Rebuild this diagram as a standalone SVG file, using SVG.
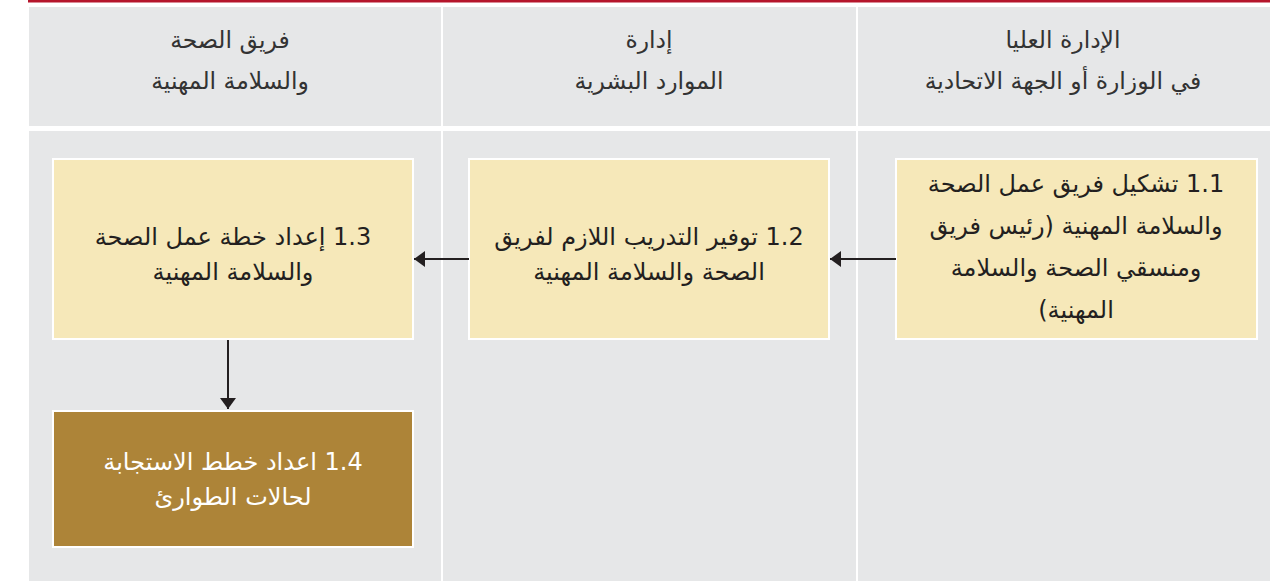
<svg xmlns="http://www.w3.org/2000/svg" width="1275" height="581" viewBox="0 0 1275 581">
<style>
.col{fill:#e6e7e8}
.box{fill:#f6e8b9;stroke:#ffffff;stroke-width:2}
.dark{fill:#ad8438;stroke:#ffffff;stroke-width:2}
.hd{font-family:"DejaVu Sans",sans-serif;font-size:23.5px;fill:#333333;text-anchor:middle;direction:rtl}
.tx{font-family:"DejaVu Sans",sans-serif;font-size:24px;fill:#231f20;text-anchor:middle;direction:rtl}
.wt{fill:#ffffff}
.ln{stroke:#231f20;stroke-width:2;fill:none}
</style>
<defs>
<marker id="ah" viewBox="0 0 11 16" refX="11" refY="8" markerWidth="5.5" markerHeight="8" orient="auto" markerUnits="strokeWidth">
<path d="M0,0 L11,8 L0,16 z" fill="#231f20"/>
</marker>
</defs>
<rect x="0" y="0" width="1275" height="581" fill="#ffffff"/>
<rect x="28" y="0" width="1242" height="2.5" fill="#b5152b"/>
<g id="columns">
<rect class="col" x="29" y="7" width="412" height="119"/>
<rect class="col" x="443" y="7" width="413" height="119"/>
<rect class="col" x="858" y="7" width="412" height="119"/>
<rect class="col" x="29" y="131" width="412" height="450"/>
<rect class="col" x="443" y="131" width="413" height="450"/>
<rect class="col" x="858" y="131" width="412" height="450"/>
</g>
<g id="header-right">
<text class="hd" x="1063" y="48">الإدارة العليا</text>
<text class="hd" x="1063" y="89">في الوزارة أو الجهة الاتحادية</text>
</g>
<g id="header-middle">
<text class="hd" x="649" y="48">إدارة</text>
<text class="hd" x="649" y="89">الموارد البشرية</text>
</g>
<g id="header-left">
<text class="hd" x="230" y="48">فريق الصحة</text>
<text class="hd" x="230" y="89">والسلامة المهنية</text>
</g>
<g id="node-1-1">
<rect class="box" x="896" y="159" width="361" height="180"/>
<text class="tx" x="1076" y="192">1.1 تشكيل فريق عمل الصحة</text>
<text class="tx" x="1076" y="234">والسلامة المهنية (رئيس فريق</text>
<text class="tx" x="1076" y="276">ومنسقي  الصحة والسلامة</text>
<text class="tx" x="1076" y="318">المهنية)</text>
</g>
<g id="node-1-2">
<rect class="box" x="469" y="159" width="360" height="180"/>
<text class="tx" x="649" y="245">1.2 توفير التدريب اللازم لفريق</text>
<text class="tx" x="649" y="280">الصحة والسلامة المهنية</text>
</g>
<g id="node-1-3">
<rect class="box" x="53" y="159" width="360" height="180"/>
<text class="tx" x="233" y="245">1.3 إعداد خطة عمل الصحة</text>
<text class="tx" x="233" y="280">والسلامة المهنية</text>
</g>
<g id="node-1-4">
<rect class="dark" x="53" y="411" width="360" height="136"/>
<text class="tx wt" x="233" y="470">1.4 اعداد خطط الاستجابة</text>
<text class="tx wt" x="233" y="505">لحالات الطوارئ</text>
</g>
<g id="connectors">
<line class="ln" x1="896" y1="259" x2="830" y2="259" marker-end="url(#ah)"/>
<line class="ln" x1="469" y1="259" x2="414" y2="259" marker-end="url(#ah)"/>
<line class="ln" x1="228" y1="340" x2="228" y2="409" marker-end="url(#ah)"/>
</g>
</svg>
